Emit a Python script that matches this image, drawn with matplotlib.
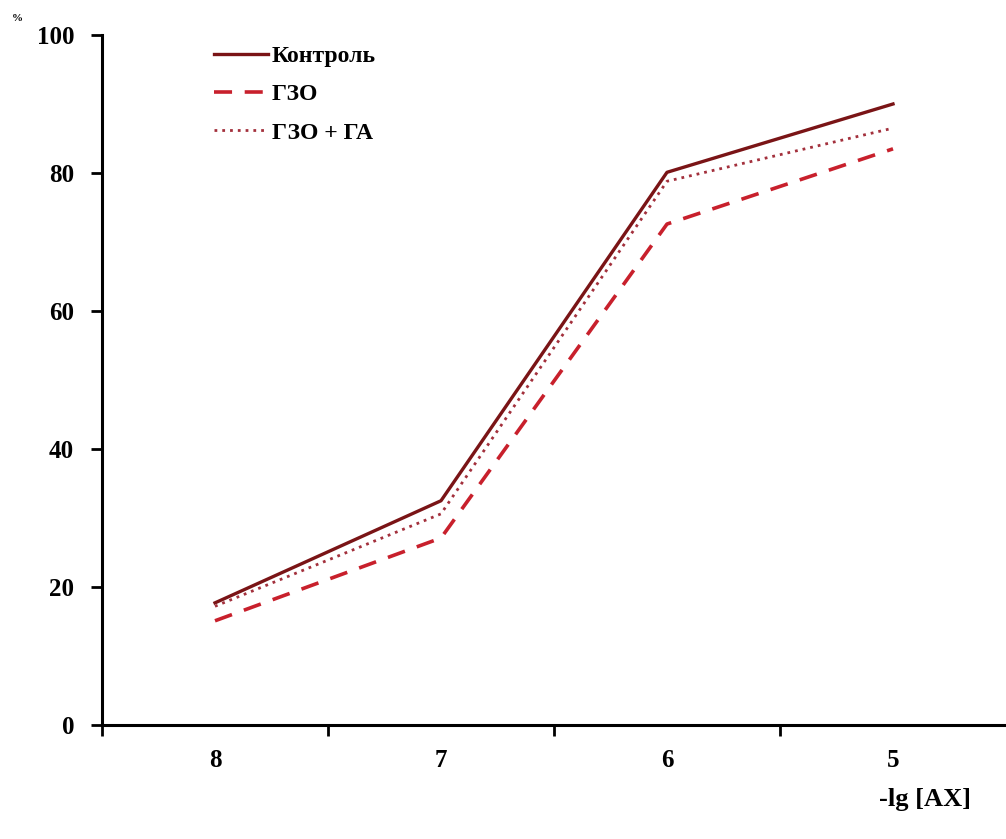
import matplotlib
matplotlib.use('Agg')
import matplotlib.pyplot as plt
import numpy as np

# data
doses = ['8', '7', '6', '5']
control = [17.7, 32.5, 80.1, 90.0]
gzo = [15.1, 27.1, 72.6, 83.5]
gzo_ga = [17.2, 30.6, 78.8, 86.5]

plt.rcParams['font.family'] = ['Liberation Serif', 'DejaVu Serif']
plt.rcParams['font.weight'] = 'bold'

fig = plt.figure(figsize=(10.06, 8.39), dpi=100)
ax = fig.add_axes([0.1014, 0.1359, 0.8986, 0.8224])

x = np.arange(len(doses))
ax.plot(x, control, color='#7a1416', lw=2.4, ls='-', label='Контроль')
ax.plot(x, gzo, color='#c8202c', lw=2.6, ls=(0, (5, 3.5)), label='ГЗО')
ax.plot(x, gzo_ga, color='#a3303c', lw=2.0, ls=(0, (1, 1.8)), label='ГЗО + ГА')

ax.set_xlim(-0.5, len(doses) - 0.5)
ax.set_ylim(0, 100)
ax.set_yticks(np.arange(0, 101, 20))

# category boundaries as tick marks, labels centred between them
ax.set_xticks(np.arange(-0.5, len(doses) - 0.5, 1.0))
ax.set_xticklabels([])
ax.set_xticks(x, minor=True)
ax.set_xticklabels(doses, minor=True)
ax.tick_params(axis='x', which='major', direction='out', length=8, width=2)
ax.tick_params(axis='x', which='minor', length=0, pad=17, labelsize=18)
ax.tick_params(axis='y', direction='out', length=8, width=2, pad=12, labelsize=18)

for s in ['top', 'right']:
    ax.spines[s].set_visible(False)
for s in ['left', 'bottom']:
    ax.spines[s].set_linewidth(2.2)

fig.text(0.012, 0.978, '%', fontsize=8, fontweight='bold', va='center')
fig.text(0.965, 0.047, '-lg [AX]', fontsize=19, fontweight='bold', ha='right', va='center')

leg = ax.legend(loc='upper left', bbox_to_anchor=(0.1, 1.015), frameon=False,
                fontsize=17, handlelength=2.3, handletextpad=0.15, labelspacing=0.7)

fig.savefig('out.png', dpi=100)
